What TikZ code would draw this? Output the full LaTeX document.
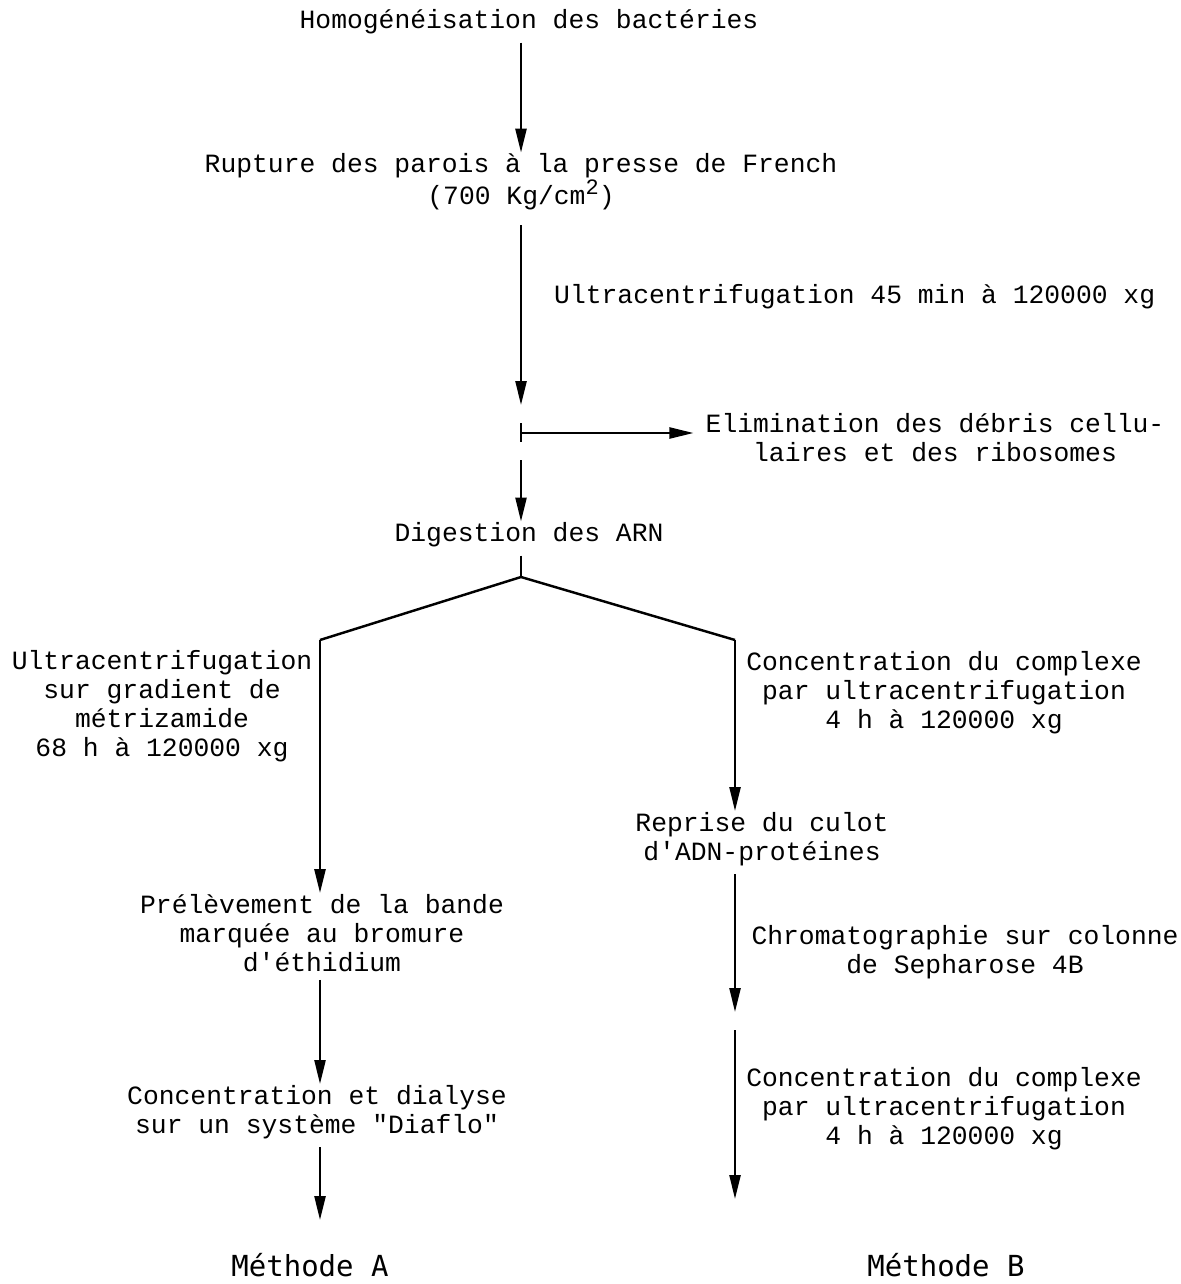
\documentclass[tikz,border=0pt]{standalone}
\usepackage{fontspec}
\setmonofont{Liberation Mono}
\newfontfamily\methfont{DejaVu Sans Mono}
\usepackage{tikz}
\usetikzlibrary{arrows.meta}

\begin{document}
\begin{tikzpicture}[x=0.02cm, y=-0.02cm, >={Triangle[length=0.48cm,width=0.22cm]}]
\tikzstyle{every node}=[align=center, inner sep=0pt, font=\fontsize{15}{16.5}\selectfont\ttfamily];
\tikzstyle{every path}=[line width=1.4pt];
\tikzstyle{meth}=[font=\fontsize{16.5}{20}\selectfont\methfont];
\useasboundingbox (0,0) rectangle (1180,1284);
% tronc commun
\path (529,22) node (homog) {Homogénéisation des bactéries};
\path (521,182) node (rupture) {Rupture des parois à la presse de French\\(700 Kg/cm\raisebox{0.7ex}{\fontsize{12.5}{12.5}\selectfont 2})};
\path (553,297) node[anchor=west] (ultra) {Ultracentrifugation 45 min à 120000 xg};
\path (935,438) node (elim) {Elimination des débris cellu-\\laires et des ribosomes};
\path (529,535) node (digest) {Digestion des ARN};
\coordinate (cut) at (521,405);
\coordinate (tickT) at (521,423);
\coordinate (tickM) at (521,433);
\coordinate (tickB) at (521,442);
\coordinate (resume) at (521,460);
\coordinate (fork) at (521,577);
\coordinate (forkL) at (320,640);
\coordinate (forkR) at (735,640);
% methode A
\path (162,706) node (gradient) {Ultracentrifugation\\sur gradient de\\métrizamide\\68 h à 120000 xg};
\path (322,933) node (prelev) {Prélèvement de la bande\\marquée au bromure\\d'éthidium};
\path (317,1112) node (dialyse) {Concentration et dialyse\\sur un système "Diaflo"};
\path (310,1265) node[meth] (methA) {Méthode A};
\coordinate (endA) at (320,1220);
% methode B
\path (944,693) node (concB) {Concentration du complexe\\par ultracentrifugation\\4 h à 120000 xg};
\path (762,839) node (reprise) {Reprise du culot\\d'ADN-protéines};
\path (965,952) node (chroma) {Chromatographie sur colonne\\de Sepharose 4B};
\path (944,1109) node (concC) {Concentration du complexe\\par ultracentrifugation\\4 h à 120000 xg};
\path (946,1265) node[meth] (methB) {Méthode B};
\coordinate (chromaEnd) at (735,1012);
\coordinate (concStart) at (735,1030);
\coordinate (endB) at (735,1199);
% fleches
\path[->] (rupture.north |- homog.south) edge[shorten <=0.14cm] (rupture.north);
\path[->] (rupture.south) edge[shorten <=0.28cm] (cut);
\draw (tickT) -- (tickB);
\path[->] (tickM) edge[shorten >=0.22cm] (tickM -| elim.west);
\path[->] (resume) edge (resume |- digest.north);
\draw[shorten <=0.14cm] (fork |- digest.south) -- (fork);
\draw (forkL) -- (fork) -- (forkR);
\path[->] (forkL) edge (forkL |- prelev.north);
\path[->] (forkL |- prelev.south) edge[shorten <=0.14cm] (forkL |- dialyse.north);
\path[->] (forkL |- dialyse.south) edge[shorten <=0.14cm] (endA);
\path[->] (forkR) edge (forkR |- reprise.north);
\path[->] (forkR |- reprise.south) edge[shorten <=0.14cm] (chromaEnd);
\path[->] (concStart) edge (endB);
\end{tikzpicture}
\end{document}
